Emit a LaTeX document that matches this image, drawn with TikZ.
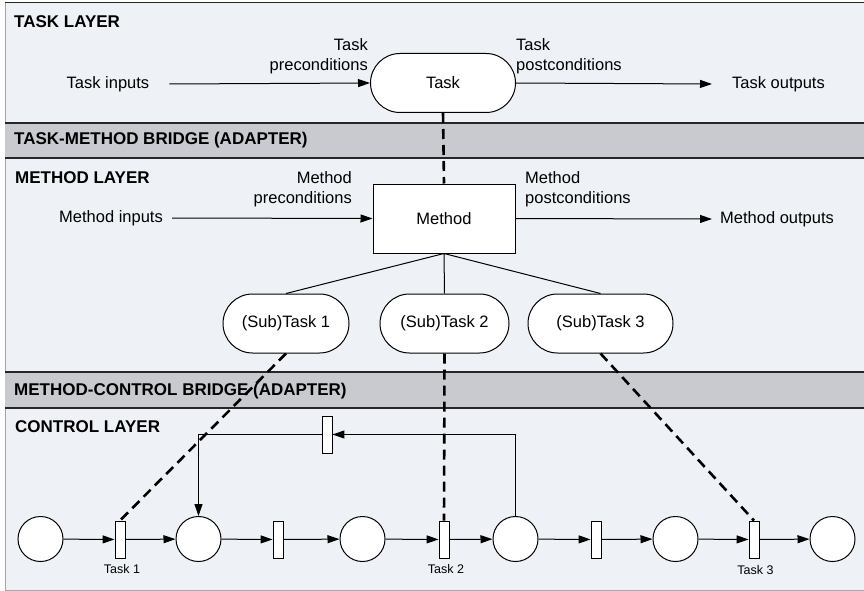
\documentclass[tikz,border=0pt]{standalone}
\usepackage{fontspec}
\setmainfont{Liberation Sans}
\usetikzlibrary{arrows.meta,positioning}
\definecolor{layerbg}{HTML}{EEF2F7}
\definecolor{bridgebg}{HTML}{C9CACF}

\begin{document}
\begin{tikzpicture}[x=1pt,y=-1pt,
    every node/.style={font=\fontsize{16.5}{20}\selectfont,inner sep=0pt},
    heading/.style={anchor=west,font=\fontsize{17}{20}\selectfont\bfseries},
    capsule/.style={draw,fill=white,rounded corners=29.5pt,minimum height=59pt,line width=1pt},
    methodbox/.style={draw,fill=white,minimum width=142pt,minimum height=69pt,line width=1pt},
    place/.style={draw,fill=white,circle,minimum size=45pt,line width=1pt},
    trans/.style={draw,fill=white,minimum width=10pt,minimum height=37pt,line width=0.9pt},
    tlabel/.style={font=\fontsize{12.5}{14}\selectfont},
    flow/.style={-{Triangle[length=12pt,width=8pt]},line width=1pt},
    link/.style={line width=2.6pt,dash pattern=on 10pt off 6pt}]
  \useasboundingbox (0,0) rectangle (864,591);

  % layers and bridges
  \fill[layerbg] (5,3) rectangle (864,590);
  \draw[gray!70,line width=1pt] (864,590) -- (5,590) -- (5,3);
  \draw[black!85,line width=1pt] (5,3) -- (864,3);
  \fill[bridgebg] (5,123) rectangle (864,158);
  \fill[bridgebg] (5,372) rectangle (864,408);
  \draw[black!85,line width=1.6pt] (5,123) -- (864,123) (5,158) -- (864,158)
                                   (5,372) -- (864,372) (5,408) -- (864,408);

  \node[heading] (TaskHd)    at (14,21.5)  {TASK LAYER};
  \node[heading] (TMBridge)  at (14,140.5) {TASK-METHOD BRIDGE (ADAPTER)};
  \node[heading] (MethodHd)  at (15,177.5) {METHOD LAYER};
  \node[heading] (MCBridge)  at (14,391)   {METHOD-CONTROL BRIDGE (ADAPTER)};
  \node[heading] (ControlHd) at (15,426.5) {CONTROL LAYER};

  % task layer
  \node[capsule,minimum width=145pt] (Task) at (443,83) {Task};
  \node (TaskIn) at (108,84) {Task inputs};
  \node[anchor=west] (TaskOut) at (732,84) {Task outputs};
  \node[align=right,anchor=east] (TaskPre)  at (368,56) {Task\\preconditions};
  \node[align=left,anchor=west]  (TaskPost) at (516,56) {Task\\postconditions};
  \draw[flow] ([xshift=20pt]TaskIn.east) -- (Task.west);
  \draw[flow] (Task.east) -- ([xshift=-20pt]TaskOut.west);

  % method layer
  \node[methodbox] (Method) at (444,218.5) {Method};
  \node (MethodIn) at (111,218) {Method inputs};
  \node[anchor=west] (MethodOut) at (720,219) {Method outputs};
  \node[align=right,anchor=east] (MethodPre)  at (352,189.5) {Method\\preconditions};
  \node[align=left,anchor=west]  (MethodPost) at (525,189.5) {Method\\postconditions};
  \draw[flow] ([xshift=9pt]MethodIn.east) -- (Method.west);
  \draw[flow] (Method.east) -- ([xshift=-8pt]MethodOut.west);

  \node[capsule,minimum width=126pt] (SubTaskA) at (286,323.5)   {(Sub)Task 1};
  \node[capsule,minimum width=129pt] (SubTaskB) at (444.5,323.5) {(Sub)Task 2};
  \node[capsule,minimum width=145pt] (SubTaskC) at (600.5,323.5) {(Sub)Task 3};
  \draw[line width=1pt] (Method.south) -- (SubTaskA.north)
                        (Method.south) -- (SubTaskB.north)
                        (Method.south) -- (SubTaskC.north);

  % control layer (petri net)
  \node[place] (PlaceA) at (40.5,539)  {};
  \node[trans] (TransA) at (120,539.5) {};
  \node[place] (PlaceB) at (198.5,539) {};
  \node[trans] (TransB) at (278,539.5) {};
  \node[place] (PlaceC) at (362.5,539) {};
  \node[trans] (TransC) at (444,539.5) {};
  \node[place] (PlaceD) at (515.5,539) {};
  \node[trans] (TransD) at (596,539.5) {};
  \node[place] (PlaceE) at (675.5,539) {};
  \node[trans] (TransE) at (754,539.5) {};
  \node[place] (PlaceF) at (832.5,539) {};
  \node[trans] (TransBack) at (327,434.5) {};

  \node[tlabel,below=6pt of TransA,xshift=2pt]   (LblA) {Task 1};
  \node[tlabel,below=6pt of TransC,xshift=2pt]   (LblC) {Task 2};
  \node[tlabel,below=7pt of TransE,xshift=1.5pt] (LblE) {Task 3};

  \path[flow] (PlaceA) edge (TransA)
              (TransA) edge (PlaceB)
              (PlaceB) edge (TransB)
              (TransB) edge (PlaceC)
              (PlaceC) edge (TransC)
              (TransC) edge (PlaceD)
              (PlaceD) edge (TransD)
              (TransD) edge (PlaceE)
              (PlaceE) edge (TransE)
              (TransE) edge (PlaceF);
  \draw[flow] (PlaceD.north) |- (TransBack.east);
  \draw[flow] (TransBack.west) -| (PlaceB.north);

  % bridges between layers
  \draw[link] (Task.south) -- (Method.north);
  \draw[link] (SubTaskA.south) -- (TransA.north);
  \draw[link] (SubTaskB.south) -- (TransC.north);
  \draw[link] (SubTaskC.south) -- (TransE.north);
\end{tikzpicture}
\end{document}
